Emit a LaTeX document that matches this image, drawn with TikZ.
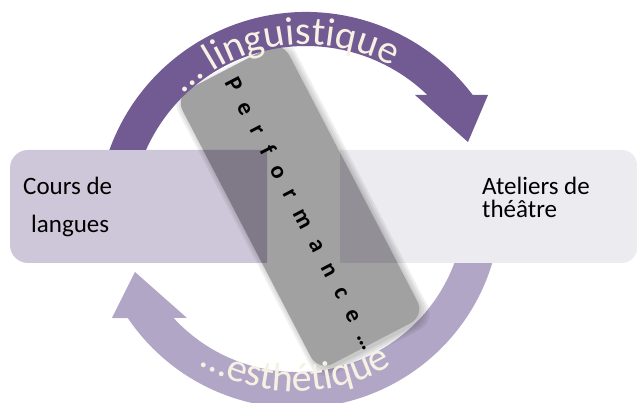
\documentclass[tikz,border=0pt]{standalone}
\usepackage{fontspec}
\setmainfont{Carlito}
\newfontfamily\curvefont{Carlito}
\usetikzlibrary{decorations.text}
\definecolor{topC}{RGB}{114,90,146}
\definecolor{botC}{RGB}{177,166,198}
\definecolor{leftC}{RGB}{206,199,217}
\definecolor{rightC}{RGB}{236,235,240}
\definecolor{bandC}{RGB}{161,161,161}
\definecolor{bandL}{RGB}{128,121,136}
\definecolor{bandR}{RGB}{146,144,150}
\definecolor{cream}{RGB}{247,241,228}
\newcommand\leftboxpath{(267,140) -- (28,140) arc[start angle=270,end angle=180,radius=18] -- (10,235) arc[start angle=180,end angle=90,radius=18] -- (267,253) -- cycle}
\newcommand\rightboxpath{(340,140) -- (622,140) arc[start angle=-90,end angle=0,radius=15] -- (637,238) arc[start angle=0,end angle=90,radius=15] -- (340,253) -- cycle}
\newcommand\bandrect{(-60,-155) rectangle (60,155)}
\tikzset{
  boxtext/.style={font=\fontsize{25}{25}\selectfont, inner sep=0pt, anchor=base west},
  bandtext/.style={font=\bfseries\fontsize{24}{24}\selectfont\addfontfeature{LetterSpace=60}, inner sep=0pt, anchor=base},
  bandgeo/.style={shift={(300,197)}, rotate=27.5}
}
\begin{document}
\begin{tikzpicture}[x=1pt,y=1pt]
\useasboundingbox (0,0) rectangle (637,403);
\clip (0,0) rectangle (637,403);
% bottom arc
\fill[botC] (496.5,156.6) arc[start angle=-12,end angle=-146,radius=204] -- (112,85) -- (135,131) -- (187,85) -- (173.6,85) arc[start angle=-137.3,end angle=-12,radius=168] -- cycle;
% boxes
\fill[leftC] \leftboxpath;
\fill[rightC] \rightboxpath;
% band shadow
\begin{scope}[shift={(303,194)}, rotate=27.5]
\foreach \i in {0,2,4,6} {
  \fill[black, opacity=0.06, rounded corners=18] (-60-\i,-155-\i) rectangle (60+\i,155+\i);
}
\end{scope}
% band
\begin{scope}[bandgeo]
\fill[bandC, rounded corners=16] \bandrect;
\end{scope}
\begin{scope}
\clip \leftboxpath;
\begin{scope}[bandgeo]
\fill[bandL, rounded corners=16] \bandrect;
\end{scope}
\end{scope}
\begin{scope}
\clip \rightboxpath;
\begin{scope}[bandgeo]
\fill[bandR, rounded corners=16] \bandrect;
\end{scope}
\end{scope}
% top arc (in front of the band)
\fill[topC] (109.4,253) arc[start angle=160.14,end angle=37.1,radius=209] -- (488,308) -- (468,261) -- (415,308) -- (427.4,308) arc[start angle=46.05,end angle=156.06,radius=175] -- cycle;
% box texts
\node[boxtext] (cours) at (23,208) {Cours de};
\node[boxtext] (langues) at (31,170) {langues};
\node[boxtext] (ateliers) at (482,208) {Ateliers de};
\node[boxtext] (theatre) at (482,185) {théâtre};
% band text
\node[bandtext, rotate=-62.5] (perf) at (294.5,185.9) {Performance…};
% curved texts
\path[decorate, decoration={text along path, text align=center,
  text={|\curvefont\fontsize{40}{40}\selectfont\color{cream}|… linguistique}}]
  (153.7,270.5) arc[start angle=150,end angle=45,radius=176];
\path[decorate, decoration={text along path, text align=center,
  text={|\curvefont\fontsize{40}{40}\selectfont\color{cream}|…esthétique}}]
  (120.3,134.7) arc[start angle=200,end angle=340,radius=187];
\end{tikzpicture}
\end{document}
